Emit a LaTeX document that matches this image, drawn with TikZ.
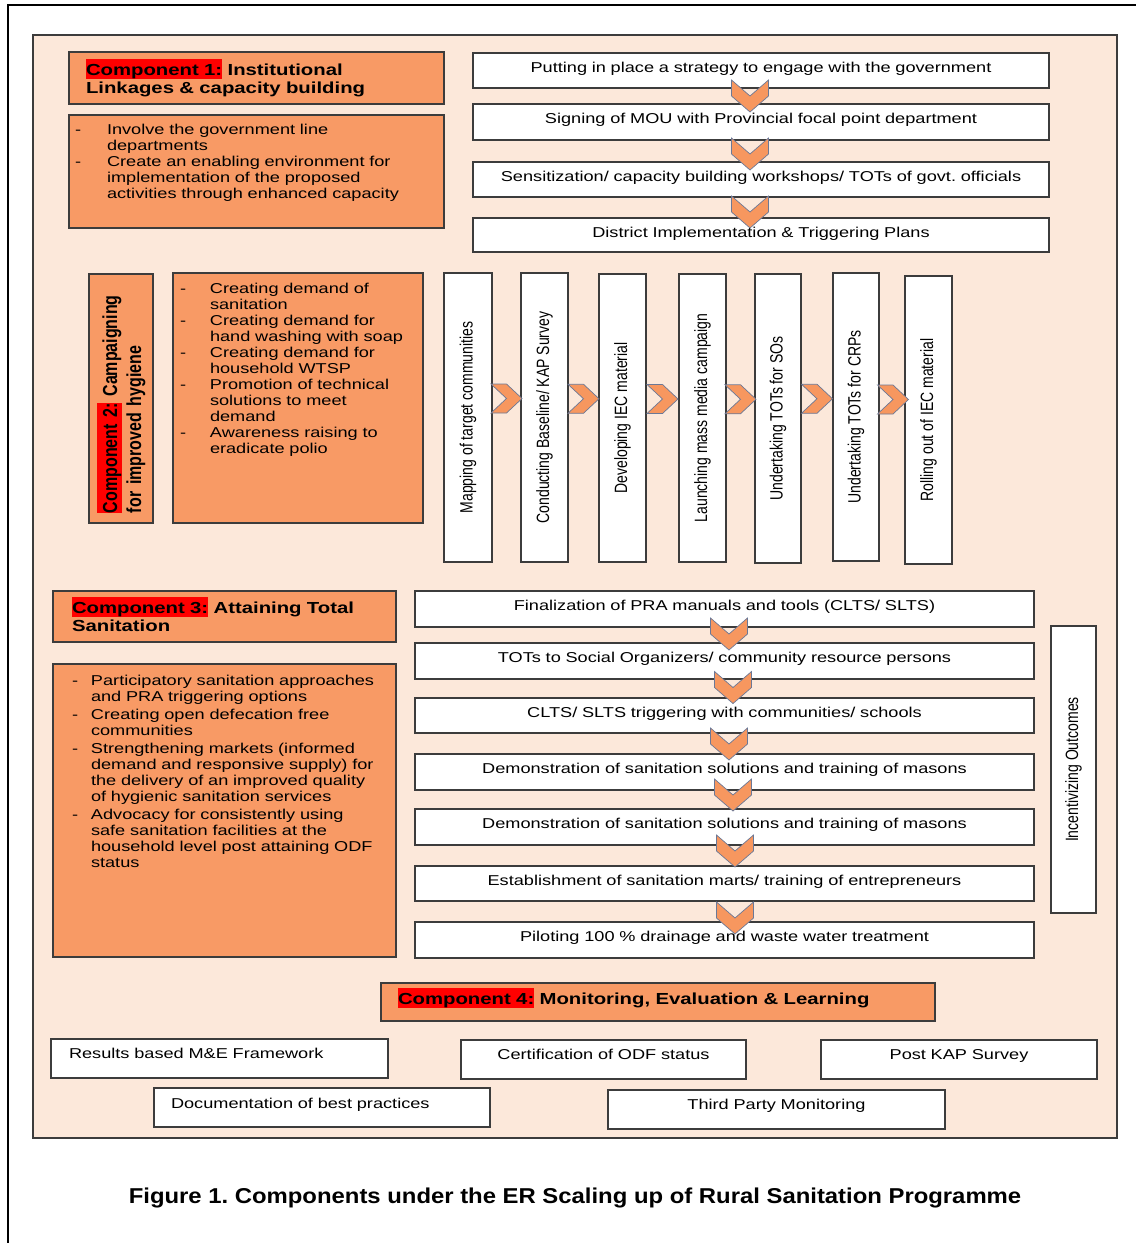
\documentclass[tikz,border=0pt]{standalone}
\usepackage{fontspec}
\usepackage{graphicx}
\usetikzlibrary{calc}
\setmainfont{Liberation Sans}
\newfontfamily\hfam{Liberation Sans}[FakeStretch=1.27]
\newfontfamily\vfam{Liberation Sans}[FakeStretch=0.787]
\newfontfamily\capfam{Liberation Sans}[FakeStretch=1.11]
\definecolor{peach}{HTML}{FCE8DA}
\definecolor{orbox}{HTML}{F89A65}
\definecolor{hlred}{HTML}{FF0000}
\definecolor{bord}{HTML}{3C3C3C}
\definecolor{chevfill}{HTML}{F7975F}
\definecolor{chevline}{HTML}{6B7896}
\frenchspacing
\newcommand\bodytxt{\hfam\fontsize{14.3}{16}\selectfont}
\newcommand\headtxt{\hfam\bfseries\fontsize{16}{18}\selectfont}
\newcommand\vertxt{\vfam\fontsize{17.8}{20}\selectfont}
\newcommand\verthead{\vfam\bfseries\fontsize{20.3}{24}\selectfont}
\newcommand\captxt{\capfam\bfseries\fontsize{21.5}{24}\selectfont}
\newcommand\hlr[1]{{\setlength{\fboxsep}{0pt}\colorbox{hlred}{\rule[-0.25em]{0pt}{1.25em}#1}}}
\newcommand\mylines[1]{\begin{tabular}[t]{@{}l@{}}#1\end{tabular}}
\newcommand\blist[2]{\begin{tabular}[t]{@{}p{#1}@{}l@{}}#2\end{tabular}}
\begin{document}
\begin{tikzpicture}[x=1pt,y=-1pt,
  every node/.style={outer sep=0pt},
  obox/.style={draw=bord, line width=1.3pt, fill=orbox, inner ysep=0pt, anchor=north west},
  wbox/.style={draw=bord, line width=1.3pt, fill=white, inner ysep=0pt, anchor=north west},
  flowbox/.style={wbox, inner xsep=5pt, align=center, font=\bodytxt, text height=19pt},
  vbox/.style={draw=bord, line width=1.3pt, fill=white, inner sep=0pt, anchor=north west, font=\vertxt},
  chevstyle/.style={fill=chevfill, draw=chevline, line width=0.7pt, line join=miter},
  dchev/.pic={\path[chevstyle] (-18.5,-16) -- (0,0) -- (18.5,-16) -- (18.5,0) -- (0,16) -- (-18.5,0) -- cycle;},
  rchev/.pic={\path[chevstyle] (-15.5,-14.5) -- (0,-14.5) -- (15.5,0) -- (0,14.5) -- (-15.5,14.5) -- (0,0) -- cycle;}]

\path[use as bounding box, fill=white] (0,0) rectangle (1136,1243);
\draw[line width=2pt] (8,1243) -- (8,5) -- (1136,5);
\node[draw=bord, line width=1.2pt, fill=peach, anchor=north west, minimum width=1084pt, minimum height=1103pt, inner sep=0pt] (panel) at (33,35) {};

% Component 1
\node[obox, inner xsep=17pt, text width=341pt, text height=23pt, text depth=29pt, align=left, font=\headtxt] (c1h) at (69,52)
  {\mylines{\hlr{Component 1:} Institutional\\Linkages \& capacity building}};
\node[obox, inner xsep=6pt, text width=363pt, text height=19.5pt, text depth=93.5pt, align=left, font=\bodytxt] (c1b) at (69,115)
  {\blist{32pt}{-&Involve the government line\\&departments\\-&Create an enabling environment for\\&implementation of the proposed\\&activities through enhanced capacity}};

\node[flowbox, text width=566pt, text depth=16pt] (f1) at (473,53) {Putting in place a strategy to engage with the government};
\node[flowbox, text width=566pt, text depth=17pt] (f2) at (473,104) {Signing of MOU with Provincial focal point department};
\node[flowbox, text width=566pt, text depth=16pt] (f3) at (473,162) {Sensitization/ capacity building workshops/ TOTs of govt. officials};
\node[flowbox, text width=566pt, text depth=15pt] (f4) at (473,218) {District Implementation \& Triggering Plans};
\pic at ($(f1.south)+(-11,8)$) {dchev};
\pic at ($(f2.south)+(-11,14)$) {dchev};
\pic at ($(f3.south)+(-11,15)$) {dchev};

% Component 2
\node[obox, rotate=90, anchor=center, inner xsep=10pt, text width=229pt, text height=28pt, text depth=36pt, align=left, font=\verthead] (c2h) at (121,398.5)
  {\mylines{\hlr{Component 2:} Campaigning\\for improved hygiene}};
\node[obox, inner xsep=7pt, text width=236pt, text height=20pt, text depth=230pt, align=left, font=\bodytxt] (c2b) at (173,273)
  {\blist{30pt}{-&Creating demand of\\&sanitation\\-&Creating demand for\\&hand washing with soap\\-&Creating demand for\\&household WTSP\\-&Promotion of technical\\&solutions to meet\\&demand\\-&Awareness raising to\\&eradicate polio}};

\node[vbox, minimum width=48pt, minimum height=289pt] (v1) at (444,273) {\rotatebox{90}{Mapping of target communities}};
\node[vbox, minimum width=47pt, minimum height=289pt] (v2) at (521,273) {\rotatebox{90}{Conducting Baseline/ KAP Survey}};
\node[vbox, minimum width=47pt, minimum height=288pt] (v3) at (599,274) {\rotatebox{90}{Developing IEC material}};
\node[vbox, minimum width=47pt, minimum height=288pt] (v4) at (679,274) {\rotatebox{90}{Launching mass media campaign}};
\node[vbox, minimum width=46pt, minimum height=289pt] (v5) at (755,274) {\rotatebox{90}{Undertaking TOTs for SOs}};
\node[vbox, minimum width=46pt, minimum height=288pt] (v6) at (833,273) {\rotatebox{90}{Undertaking TOTs for CRPs}};
\node[vbox, minimum width=47pt, minimum height=288pt] (v7) at (905,276) {\rotatebox{90}{Rolling out of IEC material}};
\pic at ($(v1.east)!0.5!(v2.west)+(0,-19)$) {rchev};
\pic at ($(v2.east)!0.5!(v3.west)+(0,-19)$) {rchev};
\pic at ($(v3.east)!0.5!(v4.west)+(0,-19)$) {rchev};
\pic at ($(v4.east)!0.5!(v5.west)+(0,-19)$) {rchev};
\pic at ($(v5.east)!0.5!(v6.west)+(0,-19)$) {rchev};
\pic at ($(v6.east)!0.5!(v7.west)+(1,-19)$) {rchev};

% Component 3
\node[obox, inner xsep=19pt, text width=305pt, text height=22pt, text depth=29pt, align=left, font=\headtxt] (c3h) at (53,591)
  {\mylines{\hlr{Component 3:} Attaining Total\\Sanitation}};
\node[obox, inner xsep=19pt, text width=305pt, text height=21pt, text depth=272pt, align=left, font=\bodytxt] (c3b) at (53,664)
  {\blist{19pt}{-&Participatory sanitation approaches\\&and PRA triggering options\\[2pt]-&Creating open defecation free\\&communities\\[2pt]-&Strengthening markets (informed\\&demand and responsive supply) for\\&the delivery of an improved quality\\&of hygienic sanitation services\\[2pt]-&Advocacy for consistently using\\&safe sanitation facilities at the\\&household level post attaining ODF\\&status}};

\node[flowbox, text width=609pt, text depth=17pt] (g1) at (415,591) {Finalization of PRA manuals and tools (CLTS/ SLTS)};
\node[flowbox, text width=609pt, text depth=17pt] (g2) at (415,643) {TOTs to Social Organizers/ community resource persons};
\node[flowbox, text width=609pt, text depth=16pt] (g3) at (415,698) {CLTS/ SLTS triggering with communities/ schools};
\node[flowbox, text width=609pt, text depth=17pt] (g4) at (415,754) {Demonstration of sanitation solutions and training of masons};
\node[flowbox, text width=609pt, text depth=17pt] (g5) at (415,809) {Demonstration of sanitation solutions and training of masons};
\node[flowbox, text width=609pt, text depth=16pt] (g6) at (415,866) {Establishment of sanitation marts/ training of entrepreneurs};
\node[flowbox, text width=609pt, text depth=17pt] (g7) at (415,922) {Piloting 100 \% drainage and waste water treatment};
\pic at ($(g1.south)+(4.5,7)$) {dchev};
\pic at ($(g2.south)+(8.5,8.5)$) {dchev};
\pic at ($(g3.south)+(4.5,11)$) {dchev};
\pic at ($(g4.south)+(8.5,5)$) {dchev};
\pic at ($(g5.south)+(10.5,6)$) {dchev};
\pic at ($(g6.south)+(10.5,17)$) {dchev};

\node[vbox, minimum width=45pt, minimum height=287pt] (inc) at (1051,626) {\rotatebox{90}{Incentivizing Outcomes}};

% Component 4
\node[obox, inner xsep=17pt, text width=520pt, text height=21pt, text depth=17pt, align=left, font=\headtxt] (c4h) at (381,983)
  {\hlr{Component 4:} Monitoring, Evaluation \& Learning};
\node[wbox, inner xsep=18pt, text width=301pt, align=left, font=\bodytxt, text height=19pt, text depth=20pt] (m1) at (51,1039) {Results based M\&E Framework};
\node[wbox, inner xsep=5pt, text width=275pt, align=center, font=\bodytxt, text height=19pt, text depth=20pt] (m2) at (461,1040) {Certification of ODF status};
\node[wbox, inner xsep=5pt, text width=266pt, align=center, font=\bodytxt, text height=19pt, text depth=20pt] (m3) at (821,1040) {Post KAP Survey};
\node[wbox, inner xsep=17pt, text width=302pt, align=left, font=\bodytxt, text height=20pt, text depth=19pt] (m4) at (154,1088) {Documentation of best practices};
\node[wbox, inner xsep=5pt, text width=327pt, align=center, font=\bodytxt, text height=19pt, text depth=20pt] (m5) at (608,1090) {Third Party Monitoring};

\node[anchor=base, font=\captxt, inner sep=0pt] (cap) at (575,1203) {Figure 1. Components under the ER Scaling up of Rural Sanitation Programme};
\end{tikzpicture}
\end{document}
